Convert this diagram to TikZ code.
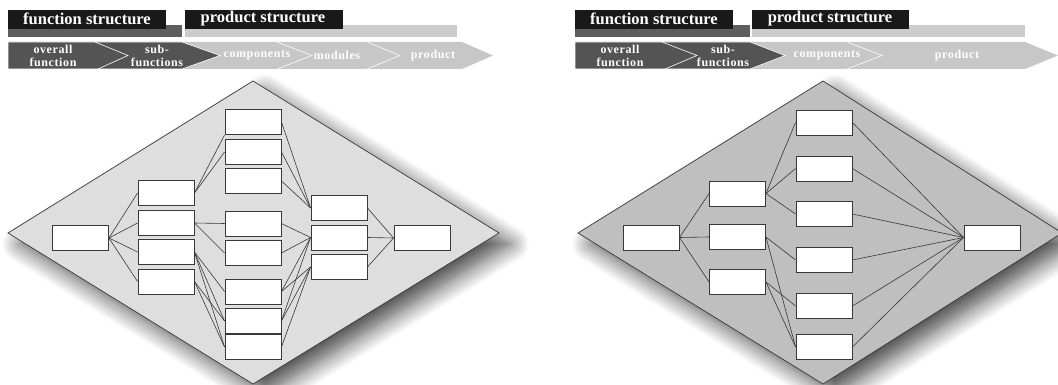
\documentclass[tikz,border=0pt]{standalone}
\usepackage{fontspec}
\setmainfont{Liberation Serif}
\newfontfamily\bandfont[LetterSpace=5]{Liberation Serif}
\usetikzlibrary{shadows.blur}
\definecolor{barblack}{gray}{0.1}
\definecolor{bardark}{gray}{0.37}
\definecolor{barlight}{gray}{0.80}
\definecolor{arrdark}{gray}{0.33}
\definecolor{arrlight}{gray}{0.78}
\definecolor{fieldlight}{gray}{0.87}
\definecolor{fielddark}{gray}{0.75}
\definecolor{edgegray}{gray}{0.22}
\tikzset{
  blk/.style={draw=edgegray,line width=0.9pt,fill=white,minimum width=56pt,minimum height=25pt,inner sep=0pt},
  wire/.style={draw=edgegray,line width=0.6pt},
  field/.style={draw=edgegray,line width=0.7pt,blur shadow={shadow xshift=12pt,shadow yshift=-11pt,shadow blur radius=18pt,shadow blur steps=12,shadow opacity=70}},
  tabhead/.style={text=white,font=\fontsize{16.5}{16.5}\selectfont\bfseries},
  bandtext/.style={text=white,align=center,font=\bandfont\fontsize{12}{13}\selectfont\bfseries},
  sep/.style={draw=white,line width=0.6pt},
}
\begin{document}
\begin{tikzpicture}[x=1pt,y=-1pt]
\useasboundingbox (0,0) rectangle (1058,385);
%% header, left
\fill[bardark] (8,25) rectangle (182,37);
\fill[barlight] (185,25) rectangle (457,37);
\fill[barblack] (8,10) rectangle (166,29);
\fill[barblack] (185,10) rectangle (343,29);
\node[tabhead] (Lfs) at (87,19) {function structure};
\node[tabhead] (Lps) at (263,19) {product structure};
\fill[arrlight] (8,42) -- (462,42) -- (493,55.5) -- (462,69) -- (8,69) -- cycle;
\draw[sep,fill=arrdark] (8,42) -- (182,42) -- (220,55.5) -- (182,69) -- (8,69) -- cycle;
\draw[sep] (95,42) -- (128,55.5) -- (98,69);
\draw[sep] (277,42) -- (312,55.5) -- (277,69);
\draw[sep] (367,42) -- (400,55.5) -- (367,69);
\node[bandtext] (Lt1) at (53,55.5) {overall\\function};
\node[bandtext] (Lt2) at (157,55.5) {sub-\\functions};
\node[bandtext] (Lt3) at (257,55.5) {components};
\node[bandtext] (Lt4) at (337,55.5) {modules};
\node[bandtext] (Lt5) at (433,55.5) {product};
%% header, right
\fill[bardark] (575,25) rectangle (750,37);
\fill[barlight] (752,25) rectangle (1025,37);
\fill[barblack] (575,10) rectangle (733,29);
\fill[barblack] (752,10) rectangle (909,29);
\node[tabhead] (Rfs) at (654,19) {function structure};
\node[tabhead] (Rps) at (830,19) {product structure};
\fill[arrlight] (575,42) -- (1025,42) -- (1058,55.5) -- (1025,69) -- (575,69) -- cycle;
\draw[sep,fill=arrdark] (575,42) -- (750,42) -- (785,55.5) -- (750,69) -- (575,69) -- cycle;
\draw[sep] (662,42) -- (697,55.5) -- (665,69);
\draw[sep] (847,42) -- (882,55.5) -- (847,69);
\node[bandtext] (Rt1) at (620,55.5) {overall\\function};
\node[bandtext] (Rt2) at (723,55.5) {sub-\\functions};
\node[bandtext] (Rt3) at (827,55.5) {components};
\node[bandtext] (Rt5) at (957,55.5) {product};
%% fields
\path[field,fill=fieldlight] (8,233) -- (253,81) -- (499,233) -- (253,384) -- cycle;
\path[field,fill=fielddark] (578,233) -- (823,81) -- (1062,233) -- (823,384) -- cycle;
%% Nodes: left structure
\node[blk] (Lo) at (80.5,238) {};
\node[blk] (Ls1) at (166,193) {};
\node[blk] (Ls2) at (166,223) {};
\node[blk] (Ls3) at (166,252) {};
\node[blk] (Ls4) at (166,281.5) {};
\node[blk] (Lc1) at (253,122) {};
\node[blk] (Lc2) at (253,152) {};
\node[blk] (Lc3) at (253,181) {};
\node[blk] (Lc4) at (253,223.5) {};
\node[blk] (Lc5) at (253,253) {};
\node[blk] (Lc6) at (253,291.5) {};
\node[blk] (Lc7) at (253,321) {};
\node[blk] (Lc8) at (253,347) {};
\node[blk] (Lm1) at (339,208) {};
\node[blk] (Lm2) at (339,237.5) {};
\node[blk] (Lm3) at (339,267) {};
\node[blk] (Lp) at (422,238) {};
%% Edges: left structure
\draw[wire] (Lo.east) -- (Ls1.west);
\draw[wire] (Lo.east) -- (Ls2.west);
\draw[wire] (Lo.east) -- (Ls3.west);
\draw[wire] (Lo.east) -- (Ls4.west);
\draw[wire] (Ls1.east) -- (Lc1.south west);
\draw[wire] (Ls1.east) -- (Lc2.west);
\draw[wire] (Ls2.east) -- (Lc4.west);
\draw[wire] (Ls2.east) -- (Lc5.west);
\draw[wire] (Ls3.east) -- (Lc6.west);
\draw[wire] (Ls3.east) -- (Lc7.west);
\draw[wire] (Ls3.east) -- (Lc8.west);
\draw[wire] (Ls4.east) -- (Lc7.west);
\draw[wire] (Ls4.east) -- (Lc8.west);
\draw[wire] (Lc1.east) -- (Lm1.west);
\draw[wire] (Lc2.east) -- (Lm1.west);
\draw[wire] (Lc3.east) -- (Lm1.west);
\draw[wire] (Lc4.east) -- (Lm2.west);
\draw[wire] (Lc5.east) -- (Lm2.west);
\draw[wire] (Lc6.east) -- (Lm2.west);
\draw[wire] (Lc6.east) -- (Lm3.west);
\draw[wire] (Lc7.east) -- (Lm2.west);
\draw[wire] (Lc7.east) -- (Lm3.west);
\draw[wire] (Lc8.east) -- (Lm3.west);
\draw[wire] (Lm1.east) -- (Lp.west);
\draw[wire] (Lm2.east) -- (Lp.west);
\draw[wire] (Lm3.east) -- (Lp.west);
%% Nodes: right structure
\node[blk] (Ro) at (651,237.5) {};
\node[blk] (Rs1) at (737.5,193.5) {};
\node[blk] (Rs2) at (737.5,237) {};
\node[blk] (Rs3) at (737.5,282) {};
\node[blk] (Rc1) at (824,122.5) {};
\node[blk] (Rc2) at (824,168.5) {};
\node[blk] (Rc3) at (824,214) {};
\node[blk] (Rc4) at (824,260) {};
\node[blk] (Rc5) at (824,306) {};
\node[blk] (Rc6) at (824,347) {};
\node[blk] (Rp) at (992,237.5) {};
%% Edges: right structure
\draw[wire] (Ro.east) -- (Rs1.west);
\draw[wire] (Ro.east) -- (Rs2.west);
\draw[wire] (Ro.east) -- (Rs3.west);
\draw[wire] (Rs1.east) -- (Rc1.west);
\draw[wire] (Rs1.east) -- (Rc2.west);
\draw[wire] (Rs1.east) -- (Rc3.west);
\draw[wire] (Rs2.east) -- (Rc4.west);
\draw[wire] (Rs2.east) -- (Rc6.west);
\draw[wire] (Rs3.east) -- (Rc5.west);
\draw[wire] (Rs3.east) -- (Rc6.west);
\foreach \c in {1,...,6}
  \draw[wire] (Rc\c.east) -- (Rp.west);
\end{tikzpicture}
\end{document}
